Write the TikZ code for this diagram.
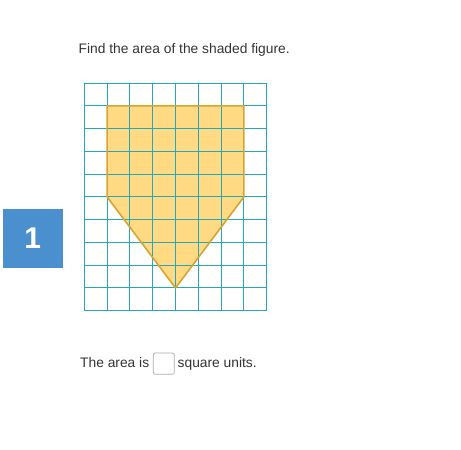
\documentclass[tikz,border=0pt]{standalone}
\usepackage{fontspec}
\setmainfont{Liberation Sans}
\usepackage{tikz}
\definecolor{gridteal}{RGB}{38,166,186}
\definecolor{shapefill}{RGB}{255,218,130}
\definecolor{shapeline}{RGB}{214,164,50}
\definecolor{numblue}{RGB}{74,143,206}
\definecolor{txtgray}{RGB}{51,51,51}
\definecolor{boxgray}{RGB}{170,170,170}

\begin{document}
\begin{tikzpicture}[x=1pt,y=1pt,
    txt/.style={anchor=base west,inner sep=0pt,text=txtgray,font=\fontsize{13.8}{16}\selectfont}]
        \useasboundingbox (0,0) rectangle (461,450);

        % question number
        \fill[numblue] (3,182) rectangle (62.7,241);
        \node[text=white,font=\fontsize{30}{32}\selectfont\bfseries] (num) at (32.8,211.5) {1};

        \node[txt] (question) at (78.5,396.5) {Find the area of the shaded figure.};

        % grid and figure
        \begin{scope}[shift={(84.3,139.3)},x=22.8pt,y=22.75pt]
            \fill[shapefill] (1,9) -- (7,9) -- (7,5) -- (4,1) -- (1,5) -- cycle;
            \draw[gridteal,line width=0.9pt,step={(1,1)}] (0,0) grid (8,10);
            \draw[shapeline,line width=1.6pt,line join=round]
                (1,9) -- (7,9) -- (7,5) -- (4,1) -- (1,5) -- cycle;
        \end{scope}

        \node[txt] (answer) at (80,82) {The area is};
        \draw[boxgray,rounded corners=2pt,line width=0.7pt] (153.3,97) rectangle (174.3,75.7);
        \node[txt] (units) at (177.5,82) {square units.};
    \end{tikzpicture}
\end{document}
